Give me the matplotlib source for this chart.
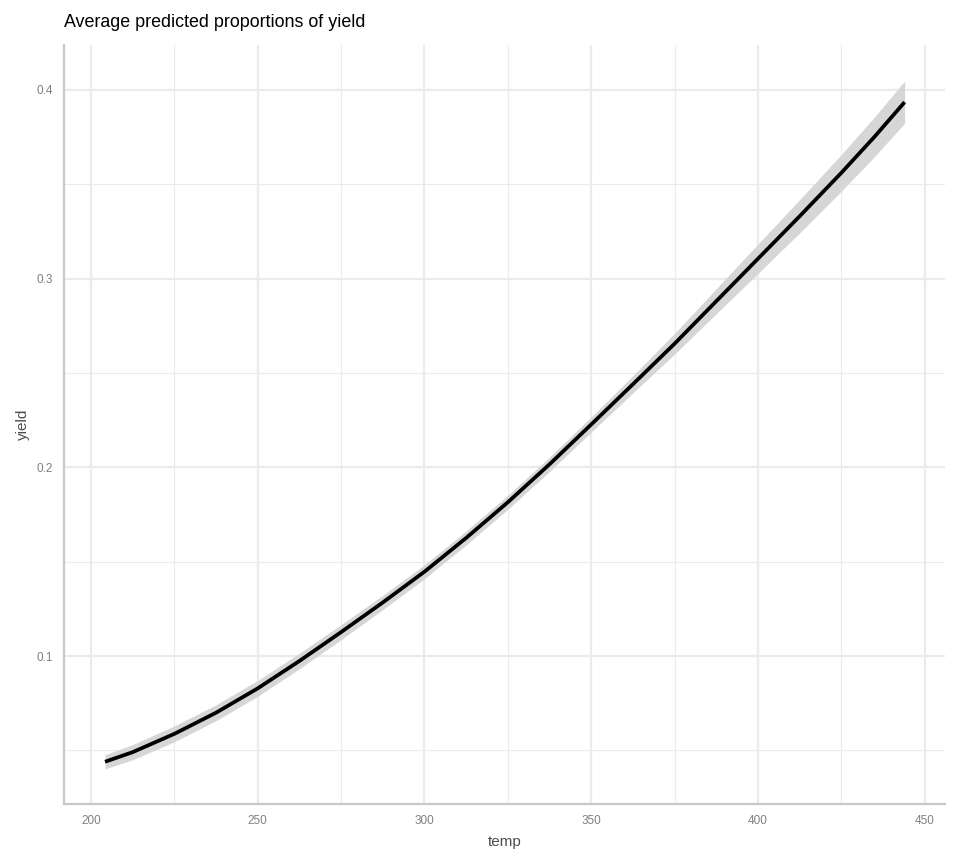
import numpy as np
import matplotlib.pyplot as plt
from matplotlib.ticker import MultipleLocator

plt.rcParams['font.family'] = ['Liberation Sans', 'DejaVu Sans']

# values
temp = [204.2, 212.5, 225, 237.5, 250, 262.5, 275, 287.5, 300, 312.5, 325,
        337.5, 350, 362.5, 375, 387.5, 400, 412.5, 425, 435, 444.0]
yield_pred = [0.0440, 0.0491, 0.0588, 0.0700, 0.0829, 0.0974, 0.1127, 0.1284,
              0.1447, 0.1626, 0.1815, 0.2016, 0.2227, 0.2440, 0.2655, 0.2880,
              0.3105, 0.3330, 0.3560, 0.3752, 0.3935]
half_ci = [0.0038, 0.0040, 0.0042, 0.0042, 0.0042, 0.0041, 0.0040, 0.0038,
           0.0037, 0.0037, 0.0037, 0.0038, 0.0040, 0.0046, 0.0055, 0.0066,
           0.0078, 0.0088, 0.0097, 0.0105, 0.0112]

x_ticks = [200, 250, 300, 350, 400, 450]
y_ticks = [0.1, 0.2, 0.3, 0.4]

t = np.array(temp)
y = np.array(yield_pred)
h = np.array(half_ci)

fig = plt.figure(figsize=(9.6, 8.64), dpi=100)
ax = fig.add_axes([0.0667, 0.0694, 0.9173, 0.8786])

ax.fill_between(t, y - h, y + h, color='#d6d6d6', lw=0, zorder=2)
ax.plot(t, y, color='black', lw=2.7, solid_capstyle='butt',
        solid_joinstyle='round', zorder=3)

ax.set_xlim(191.9, 456.0)
ax.set_ylim(0.0216, 0.4238)
ax.set_xticks(x_ticks)
ax.set_yticks(y_ticks)
ax.set_yticklabels([f'{v:g}' for v in y_ticks])
ax.xaxis.set_minor_locator(MultipleLocator(25))
ax.yaxis.set_minor_locator(MultipleLocator(0.05))

ax.grid(True, which='major', color='#ebebeb', lw=1.6, zorder=0)
ax.grid(True, which='minor', color='#ebebeb', lw=0.8, zorder=0)
ax.set_axisbelow(True)

for s in ['top', 'right']:
    ax.spines[s].set_visible(False)
for s in ['left', 'bottom']:
    ax.spines[s].set_color('#c8c8c8')
    ax.spines[s].set_linewidth(1.6)

ax.tick_params(which='both', length=0, labelsize=8.5, labelcolor='#808080', pad=8)

ax.set_xlabel('temp', fontsize=11, color='#4d4d4d', labelpad=6)
ax.set_ylabel('yield', fontsize=11, color='#4d4d4d', labelpad=5)
ax.set_title('Average predicted proportions of yield', loc='left', fontsize=12.9,
             color='black', pad=13)

fig.savefig('out.png', dpi=100, facecolor='white')
